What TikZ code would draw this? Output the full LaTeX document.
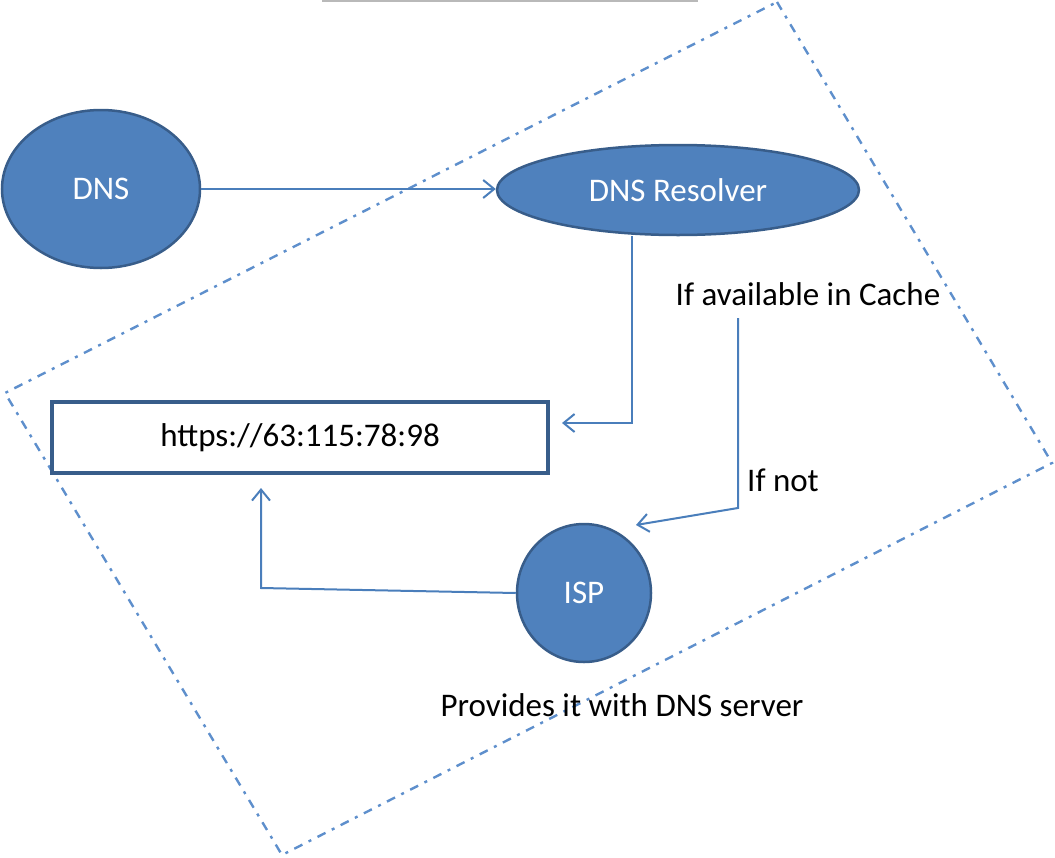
\documentclass[tikz,border=0pt]{standalone}
\usepackage{fontspec}
\setmainfont{Carlito}
\usetikzlibrary{shapes.geometric,arrows.meta,calc}
\definecolor{fillblue}{HTML}{4F81BD}
\definecolor{edgeblue}{HTML}{385D8A}
\definecolor{connblue}{HTML}{4A7EBB}
\definecolor{dashblue}{HTML}{5E8FCC}
\tikzset{
  bubble/.style={ellipse, fill=fillblue, draw=edgeblue, line width=2.5pt, inner sep=0pt,
    text=white, font=\fontsize{33}{40}\selectfont},
  urlbox/.style={rectangle, draw=edgeblue, line width=3.5pt, inner sep=0pt,
    font=\fontsize{33}{40}\selectfont},
  lbl/.style={font=\fontsize{33}{40}\selectfont, inner sep=0pt},
  conn/.style={draw=connblue, line width=2pt, -{Straight Barb[length=11pt,width=18pt,line width=2pt]}},
  frame/.style={draw=dashblue, line width=2.4pt, dash pattern=on 9pt off 7pt on 3pt off 7pt},
}
\begin{document}
\begin{tikzpicture}[x=1pt,y=-1pt]
\useasboundingbox (0,0) rectangle (1055,857);
% cut-off title underline
\draw[gray!55, line width=1.5pt] (322,1) -- (698,1);
% dash-dot tilted frame
\draw[frame] (777,2) -- (1052,463) -- (282,855) -- (5,393) -- cycle;
% nodes
\node[bubble, minimum width=198pt, minimum height=158pt] (dns) at (101,189) {DNS};
\node[bubble, minimum width=362pt, minimum height=90pt] (res) at (678,190) {DNS Resolver};
\node[urlbox, minimum width=496pt, minimum height=71pt] (url) at (300,437.5) {https://63:115:78:98};
\node[bubble, minimum width=134pt, minimum height=138pt] (isp) at (584,593) {ISP};
\node[lbl] (cache) at (808,294) {If available in Cache};
\node[lbl] (ifnot) at (783,480) {If not};
\node[lbl] (prov) at (622,705) {Provides it with DNS server};
% coordinates
\coordinate (c1) at (632,423);
\coordinate (c1end) at (562,423);
\coordinate (c2top) at (738,318);
\coordinate (c2) at (738,508);
\coordinate (c2end) at (636,525);
\coordinate (c3) at (261,588);
\coordinate (c3end) at (261,488);
% connectors
\draw[conn] (dns.east) -- (dns.east -| res.west);
\draw[conn] (res.south -| c1) -- (c1) -- (c1end);
\draw[conn] (c2top) -- (c2) -- (c2end);
\draw[conn] (isp.west) -- (c3) -- (c3end);
\end{tikzpicture}
\end{document}
